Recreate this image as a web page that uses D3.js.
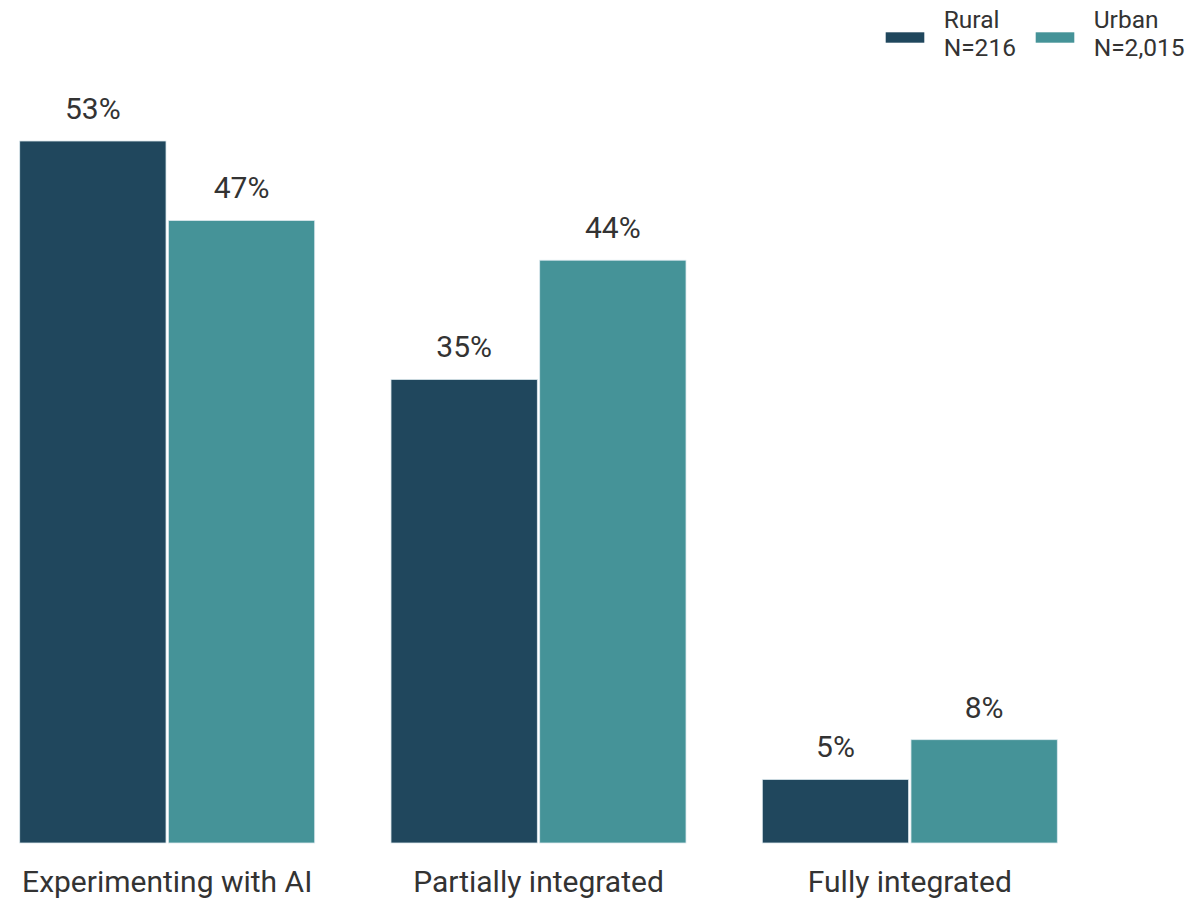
<!DOCTYPE html>
<html>
<head>
<meta charset="utf-8">
<script src="https://cdn.jsdelivr.net/npm/d3@7"></script>
<style>
  html, body { margin: 0; padding: 0; background: #ffffff; }
  svg { display: block; font-family: Roboto, "Noto Sans", sans-serif; }
</style>
</head>
<body>
<svg id="chart" width="1197" height="899"></svg>
<script>
const categories = ["Experimenting with AI", "Partially integrated", "Fully integrated"];
const seriesNames = ["Rural", "Urban"];
const seriesN = ["N=216", "N=2,015"];
const ruralValues = [53, 35, 4.8];
const urbanValues = [47, 44, 7.8];
const colors = ["#20475d", "#459398"];

const seriesValues = [ruralValues, urbanValues];
const data = categories.map((c, i) => ({
  category: c,
  values: seriesNames.map((s, j) => ({ series: s, value: seriesValues[j][i], idx: j }))
}));

const svg = d3.select("#chart");
const baseline = 843;

const x0 = d3.scaleBand().domain(categories).range([19.7, 1057.3]).paddingInner(0.2055).paddingOuter(0);
const x1 = d3.scaleBand().domain(seriesNames).range([0, x0.bandwidth()]).paddingInner(0.016).paddingOuter(0);
const y = d3.scaleLinear().domain([0, 53]).range([baseline, 141]);

const groups = svg.append("g").selectAll("g")
  .data(data).join("g")
  .attr("transform", d => `translate(${x0(d.category)},0)`);

groups.selectAll("rect")
  .data(d => d.values).join("rect")
  .attr("x", d => x1(d.series))
  .attr("y", d => y(d.value))
  .attr("width", x1.bandwidth())
  .attr("height", d => y(0) - y(d.value))
  .attr("fill", d => colors[d.idx])
  .attr("stroke", "#dce9ee")
  .attr("stroke-width", 0.8);

groups.selectAll("text.val")
  .data(d => d.values).join("text")
  .attr("class", "val")
  .attr("x", d => x1(d.series) + x1.bandwidth() / 2)
  .attr("y", d => y(d.value) - 22)
  .attr("text-anchor", "middle")
  .attr("font-size", 30)
  .attr("fill", "#333333")
  .text(d => Math.round(d.value) + "%");

// category axis
const xAxis = d3.axisBottom(x0).tickSize(0).tickPadding(0);
const axisG = svg.append("g").attr("transform", `translate(0,${baseline})`).call(xAxis);
axisG.select(".domain").remove();
axisG.selectAll("text")
  .attr("dy", null)
  .attr("y", 49)
  .attr("font-size", 30)
  .attr("font-family", "Roboto, 'Noto Sans', sans-serif")
  .attr("fill", "#333333");

// legend
const legendX = [885.7, 1035.7];
const legend = svg.append("g").selectAll("g")
  .data(seriesNames).join("g")
  .attr("transform", (d, i) => `translate(${legendX[i]},0)`);
legend.append("rect")
  .attr("x", 0).attr("y", 32.3)
  .attr("width", 38.6).attr("height", 10.4)
  .attr("fill", (d, i) => colors[i]);
legend.append("text")
  .attr("x", 58).attr("y", 27.5)
  .attr("font-size", 24.5).attr("fill", "#333333")
  .text(d => d);
legend.append("text")
  .attr("x", 58).attr("y", 55.5)
  .attr("font-size", 24.5).attr("fill", "#333333")
  .text((d, i) => seriesN[i]);
</script>
</body>
</html>
